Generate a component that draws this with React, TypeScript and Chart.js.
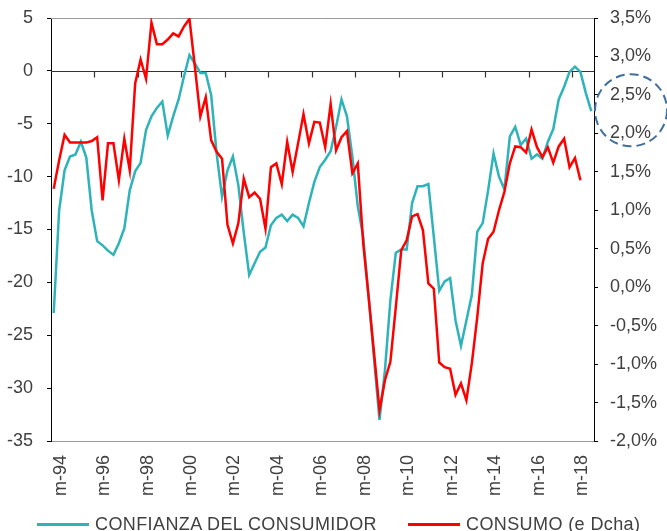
import React, { useEffect, useRef } from 'react';
import { Chart, registerables } from 'chart.js';

Chart.register(...registerables);

// ---------- data ----------
const YEARS = ['94', '95', '96', '97', '98', '99', '00', '01', '02', '03', '04', '05', '06', '07', '08', '09', '10', '11', '12', '13', '14', '15', '16', '17', '18'];
const QUARTER_MONTHS = ['m', 'j', 's', 'd'];
const CATEGORIES: string[] = YEARS.flatMap((y) => QUARTER_MONTHS.map((q) => `${q}-${y}`));
const LABEL_EVERY = 8;

// Confianza del consumidor (left axis)
const CONFIANZA = [
  -22.9, -13.2, -9.4, -8.1, -7.9, -6.7, -8.2, -13.2, -16.1, -16.5,
  -17.0, -17.4, -16.3, -14.9, -11.3, -9.5, -8.7, -5.6, -4.3, -3.5,
  -2.9, -6.1, -4.3, -2.7, -0.5, 1.5, 0.7, -0.2, -0.2, -2.3,
  -7.8, -11.9, -9.4, -8.1, -10.8, -15.3, -19.3, -18.2, -17.1, -16.7,
  -14.6, -13.9, -13.6, -14.2, -13.6, -13.9, -14.7, -12.5, -10.5, -9.1,
  -8.4, -7.6, -5.3, -2.7, -4.3, -8.1, -12.8, -15.7, -21.4, -27.3,
  -33.0, -28.3, -21.7, -17.2, -16.9, -16.9, -12.5, -10.9, -10.9, -10.7,
  -15.7, -20.8, -19.9, -19.6, -23.6, -26.0, -23.6, -21.2, -15.2, -14.4,
  -11.3, -7.8, -10.0, -11.2, -6.2, -5.3, -7.0, -6.4, -8.3, -7.9,
  -8.3, -6.7, -5.5, -2.7, -1.5, -0.1, 0.4, -0.1, -2.1, -3.8,
];

// Consumo, % (right axis)
const CONSUMO: (number | null)[] = [
  1.28, 1.65, 1.98, 1.88, 1.88, 1.88, 1.88, 1.90, 1.95, 1.13,
  1.87, 1.87, 1.39, 1.93, 1.52, 2.65, 2.96, 2.71, 3.44, 3.16,
  3.16, 3.22, 3.30, 3.26, 3.39, 3.49, 2.86, 2.22, 2.47, 1.91,
  1.76, 1.67, 0.81, 0.57, 0.83, 1.41, 1.17, 1.23, 1.15, 0.76,
  1.56, 1.61, 1.34, 1.89, 1.50, 1.87, 2.25, 1.87, 2.15, 2.14,
  1.82, 2.38, 1.78, 1.95, 2.03, 1.48, 1.61, 0.57, -0.13, -0.86,
  -1.60, -1.21, -0.97, -0.26, 0.48, 0.61, 0.92, 0.95, 0.74, 0.05,
  -0.02, -0.98, -1.04, -1.06, -1.40, -1.25, -1.47, -0.99, -0.39, 0.31,
  0.63, 0.72, 1.00, 1.24, 1.61, 1.83, 1.82, 1.75, 2.05, 1.82,
  1.69, 1.82, 1.62, 1.83, 1.93, 1.56, 1.68, 1.39, null, null,
];

const LEFT_MIN = -35;
const LEFT_MAX = 5;
const LEFT_STEP = 5;
const RIGHT_MIN = -2;
const RIGHT_MAX = 3.5;
const RIGHT_STEP = 0.5;

const SERIES_NAMES = ['CONFIANZA DEL CONSUMIDOR', 'CONSUMO (e Dcha)'];
const HIGHLIGHT_VALUE = 2.3; // right-axis value circled by the dashed ellipse

// ---------- styles ----------
const TEAL = '#2DB3B8';
const RED = '#FF0000';
const TEXT = '#404040';
const FONT = "'Liberation Sans', Arial, sans-serif";
const W = 667;
const H = 531;

const framePlugin = {
  id: 'frame',
  beforeDatasetsDraw(chart: any) {
    const { ctx, chartArea, scales } = chart;
    const x = scales.x;
    const y = scales.y;
    ctx.save();
    // top border
    ctx.strokeStyle = '#9a9a9a';
    ctx.lineWidth = 1;
    ctx.beginPath();
    ctx.moveTo(chartArea.left, Math.round(chartArea.top) + 0.5);
    ctx.lineTo(chartArea.right, Math.round(chartArea.top) + 0.5);
    ctx.stroke();
    // zero axis with tick marks
    const y0 = Math.round(y.getPixelForValue(0)) + 0.5;
    ctx.strokeStyle = '#333333';
    ctx.lineWidth = 1.2;
    ctx.beginPath();
    ctx.moveTo(chartArea.left, y0);
    ctx.lineTo(chartArea.right, y0);
    const bin = x.getPixelForValue(1) - x.getPixelForValue(0);
    for (let k = LABEL_EVERY; k < CATEGORIES.length; k += LABEL_EVERY) {
      const px = Math.round(x.getPixelForValue(k) - bin / 2) + 0.5;
      ctx.moveTo(px, y0);
      ctx.lineTo(px, y0 + 6);
    }
    ctx.stroke();
    ctx.restore();
  },
  afterDraw(chart: any) {
    const { ctx, chartArea, scales } = chart;
    const cy = scales.y1.getPixelForValue(HIGHLIGHT_VALUE);
    const cx = chartArea.right + 37;
    ctx.save();
    ctx.strokeStyle = '#3F6F9F';
    ctx.lineWidth = 2;
    ctx.setLineDash([9, 5]);
    ctx.beginPath();
    ctx.ellipse(cx, cy, 36, 36, 0, 0, Math.PI * 2);
    ctx.stroke();
    ctx.restore();
  },
};

const fixVerticalAxis = (width: number) => (s: any) => {
  s.width = width;
  s.paddingTop = 0;
  s.paddingBottom = 0;
};

export default function App() {
  const canvasRef = useRef<HTMLCanvasElement | null>(null);

  useEffect(() => {
    if (!canvasRef.current) return;
    Chart.defaults.font.family = FONT;
    Chart.defaults.color = TEXT;
    const chart = new Chart(canvasRef.current, {
      type: 'line',
      data: {
        labels: CATEGORIES,
        datasets: [
          {
            label: SERIES_NAMES[0],
            data: CONFIANZA,
            borderColor: TEAL,
            backgroundColor: TEAL,
            borderWidth: 2.5,
            pointRadius: 0,
            tension: 0,
            yAxisID: 'y',
            order: 1,
          },
          {
            label: SERIES_NAMES[1],
            data: CONSUMO,
            borderColor: RED,
            backgroundColor: RED,
            borderWidth: 2.5,
            pointRadius: 0,
            tension: 0,
            yAxisID: 'y1',
            spanGaps: false,
            order: 0,
          },
        ],
      },
      options: {
        responsive: false,
        maintainAspectRatio: false,
        animation: false,
        layout: { autoPadding: false, padding: { top: 18, left: 0, right: 0, bottom: 30 } },
        plugins: {
          legend: { display: false },
          tooltip: { enabled: false },
        },
        scales: {
          x: {
            type: 'category',
            offset: true,
            grid: { display: false, drawTicks: false },
            border: { display: true, color: '#9a9a9a', width: 1 },
            ticks: {
              autoSkip: false,
              maxRotation: 90,
              minRotation: 90,
              padding: 14,
              labelOffset: 7,
              font: { size: 18, family: FONT },
              color: TEXT,
              callback: (_v: any, i: number) => (i % LABEL_EVERY === 0 ? CATEGORIES[i] : ''),
            },
            afterFit: (s: any) => {
              s.height = 60;
              s.paddingLeft = 0;
              s.paddingRight = 0;
            },
          },
          y: {
            position: 'left',
            min: LEFT_MIN,
            max: LEFT_MAX,
            grid: { drawOnChartArea: false, color: '#000', tickLength: 4 },
            border: { display: true, color: '#000', width: 1 },
            ticks: {
              stepSize: LEFT_STEP,
              padding: 14,
              font: { size: 18, family: FONT },
              color: TEXT,
              callback: (v: any) => String(v),
            },
            afterFit: fixVerticalAxis(51),
          },
          y1: {
            position: 'right',
            min: RIGHT_MIN,
            max: RIGHT_MAX,
            grid: { drawOnChartArea: false, color: '#000', tickLength: 4 },
            border: { display: true, color: '#000', width: 1 },
            ticks: {
              stepSize: RIGHT_STEP,
              padding: 12,
              font: { size: 18, family: FONT },
              color: TEXT,
              callback: (v: any) => Number(v).toFixed(1).replace('.', ',') + '%',
            },
            afterFit: fixVerticalAxis(73),
          },
        },
      },
      plugins: [framePlugin],
    } as any);
    return () => chart.destroy();
  }, []);

  const legendText: React.CSSProperties = {
    position: 'absolute',
    top: 515,
    fontFamily: FONT,
    fontSize: 18,
    lineHeight: '18px',
    color: TEXT,
    whiteSpace: 'nowrap',
    letterSpacing: '0.4px',
  };

  return (
    <div style={{ position: 'fixed', left: 0, top: 0, width: W, height: H, background: '#fff' }}>
      <canvas ref={canvasRef} width={W} height={H} style={{ display: 'block' }} />
      <div style={{ position: 'absolute', left: 37, top: 523, width: 52, height: 3, background: TEAL }} />
      <span style={{ ...legendText, left: 95 }}>{SERIES_NAMES[0]}</span>
      <div style={{ position: 'absolute', left: 408, top: 523, width: 52, height: 3, background: RED }} />
      <span style={{ ...legendText, left: 466 }}>{SERIES_NAMES[1]}</span>
    </div>
  );
}
